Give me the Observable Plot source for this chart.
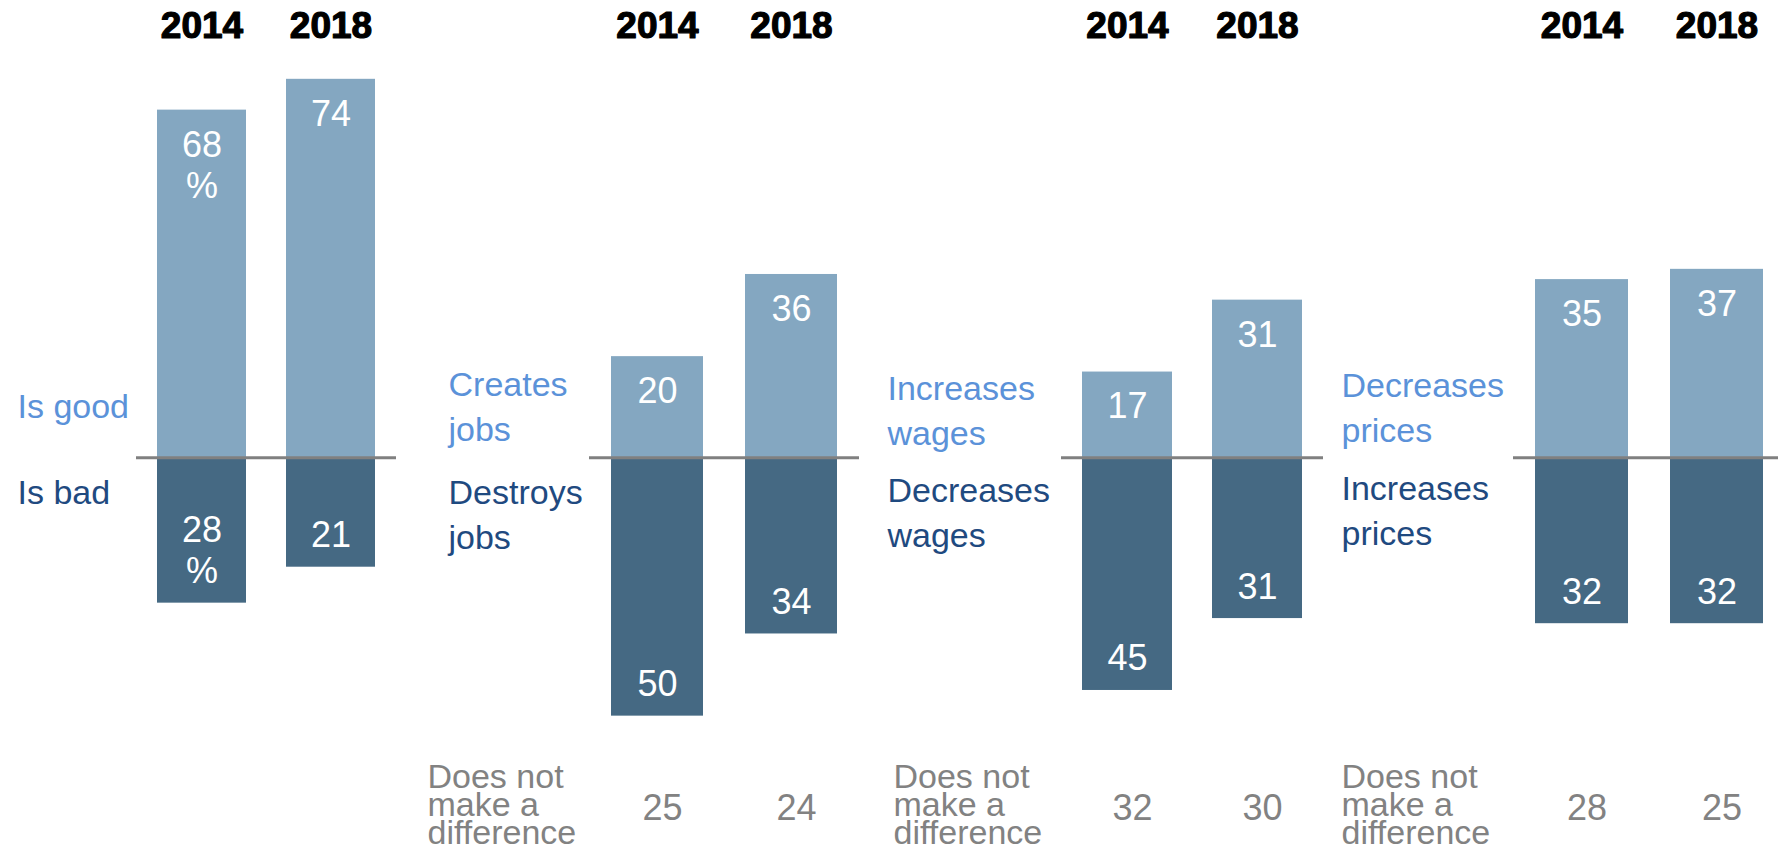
<!DOCTYPE html>
<html>
<head>
<meta charset="utf-8">
<script src="https://cdn.jsdelivr.net/npm/d3@7"></script>
<script src="https://cdn.jsdelivr.net/npm/@observablehq/plot@0.6"></script>
<style>
html, body { margin: 0; padding: 0; background: #fff; overflow: hidden; width: 1778px; height: 846px; }
#row { display: flex; flex-wrap: nowrap; width: 1800px; }
#row > div { flex: none; }
#row svg { display: block; }
</style>
</head>
<body>
<div id="row"></div>
<script>
// ---- data ----
const panels = ["trade", "jobs", "wages", "prices"];
const years = ["2014", "2018"];
const goodLabels = ["Is good", "Creates\njobs", "Increases\nwages", "Decreases\nprices"];
const badLabels = ["Is bad", "Destroys\njobs", "Decreases\nwages", "Increases\nprices"];
const goodValues = [[68, 74], [20, 36], [17, 31], [35, 37]];
const badValues = [[28, 21], [50, 34], [45, 31], [32, 32]];
const noDiffValues = [null, [25, 24], [32, 30], [28, 25]];
const noDiffLabel = "Does not\nmake a\ndifference";
const percentYears = [["2014"], [], [], []];

// ---- style ----
const COLORS = {
  goodBar: "#84a7c1",
  badBar: "#456983",
  goodText: "#5b92d9",
  badText: "#1f4a80",
  gray: "#828282",
  rule: "#808080"
};
const layout = [
  {width: 420, marginLeft: 136, marginRight: 24, labelDx: -119, noteDx: 0,    goodDy: -56, badDy: 13},
  {width: 450, marginLeft: 169, marginRight: 11, labelDx: -141, noteDx: -162, goodDy: -55, badDy: 13},
  {width: 460, marginLeft: 191, marginRight: 7,  labelDx: -174, noteDx: -168, goodDy: -51, badDy: 11},
  {width: 455, marginLeft: 183, marginRight: 0,  labelDx: -172, noteDx: -172, goodDy: -54, badDy: 9}
];

const row = document.getElementById("row");

panels.forEach((p, i) => {
  const L = layout[i];
  const good = years.map((year, j) => ({year, value: goodValues[i][j]}));
  const bad = years.map((year, j) => ({year, value: badValues[i][j]}));
  const fmt = d => percentYears[i].includes(d.year) ? `${d.value}\n%` : `${d.value}`;

  const marks = [
    Plot.barY(good, {x: "year", y1: 0, y2: "value", fill: COLORS.goodBar}),
    Plot.barY(bad, {x: "year", y1: 0, y2: d => -d.value, fill: COLORS.badBar}),
    Plot.ruleY([0], {stroke: COLORS.rule, strokeWidth: 3, dy: -1.5}),
    Plot.text(good, {x: "year", y: "value", text: fmt, fill: "white", fontSize: 36,
      lineAnchor: "top", lineHeight: 1.15, dy: 17}),
    Plot.text(bad, {x: "year", y: d => -d.value, text: fmt, fill: "white", fontSize: 36,
      lineAnchor: "bottom", lineHeight: 1.15, dy: -20}),
    Plot.text(years, {x: d => d, text: d => d, frameAnchor: "top", lineAnchor: "bottom", dy: -11,
      fontSize: 37, fontWeight: "bold", fill: "black", stroke: "black", strokeWidth: 1.2}),
    Plot.text([goodLabels[i]], {y: 0, text: d => d, frameAnchor: "left", textAnchor: "start",
      dx: L.labelDx, dy: L.goodDy, lineAnchor: "middle", lineHeight: 1.32, fontSize: 34, fill: COLORS.goodText}),
    Plot.text([badLabels[i]], {y: 0, text: d => d, frameAnchor: "left", textAnchor: "start",
      dx: L.labelDx, dy: L.badDy, lineAnchor: "top", lineHeight: 1.32, fontSize: 34, fill: COLORS.badText})
  ];

  if (noDiffValues[i]) {
    const nd = years.map((year, j) => ({year, value: noDiffValues[i][j]}));
    marks.push(Plot.text([noDiffLabel], {text: d => d, frameAnchor: "bottom-left", textAnchor: "start",
      lineAnchor: "top", lineHeight: 0.82, fontSize: 34, fill: COLORS.gray, dx: L.noteDx, dy: 1}));
    marks.push(Plot.text(nd, {x: "year", text: d => `${d.value}`, frameAnchor: "bottom",
      lineAnchor: "bottom", dy: 52, dx: 5, fontSize: 36, fill: COLORS.gray}));
  }

  const chart = Plot.plot({
    width: L.width,
    height: 846,
    marginTop: 48,
    marginBottom: 79,
    marginLeft: L.marginLeft,
    marginRight: L.marginRight,
    x: {type: "band", domain: years, paddingInner: 0.31, paddingOuter: 0.16, axis: null},
    y: {domain: [-60, 80], axis: null},
    style: {fontFamily: "'Liberation Sans', Arial, sans-serif", background: "white", overflow: "visible"},
    marks
  });
  const div = document.createElement("div");
  div.style.width = L.width + "px";
  div.appendChild(chart);
  row.appendChild(div);
});
</script>
</body>
</html>
